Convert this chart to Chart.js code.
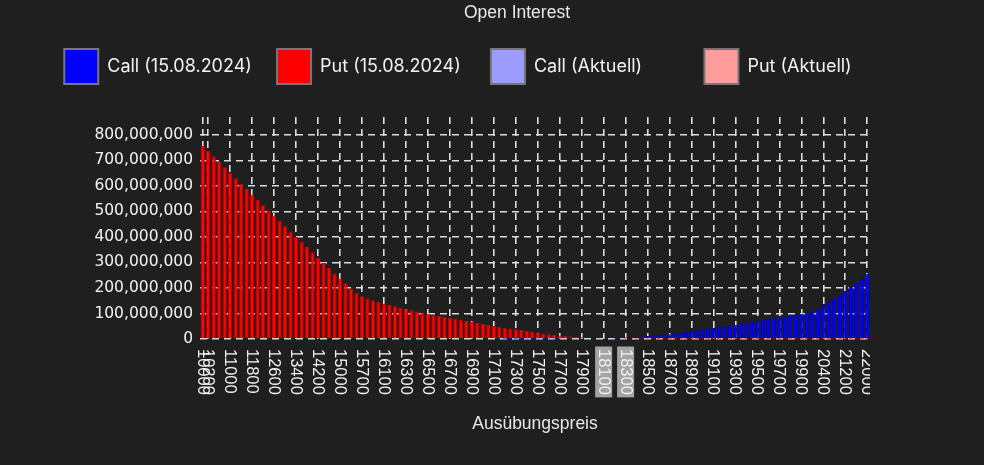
<!DOCTYPE html>
<html>
<head>
<meta charset="utf-8">
<script src="https://cdn.jsdelivr.net/npm/chart.js@4.4.1/dist/chart.umd.min.js"></script>
<style>
html, body { margin: 0; padding: 0; background: #1f1f1f; overflow: hidden; }
#wrap { width: 870px; height: 465px; overflow: hidden; }
canvas { display: block; }
</style>
</head>
<body>
<div id="wrap"><canvas id="c" width="1034" height="465"></canvas></div>
<script>
// ---------- data ----------
const strikes = [
  '10000','10200','10400','10600','10800','11000','11200','11400','11600','11800',
  '12000','12200','12400','12600','12800','13000','13200','13400','13600','13800',
  '14000','14200','14400','14600','14800','15000','15200','15400','15600','15700',
  '15800','15900','16000','16100','16150','16200','16250','16300','16350','16400',
  '16450','16500','16550','16600','16650','16700','16750','16800','16850','16900',
  '16950','17000','17050','17100','17150','17200','17250','17300','17350','17400',
  '17450','17500','17550','17600','17650','17700','17750','17800','17850','17900',
  '17950','18000','18050','18100','18150','18200','18250','18300','18350','18400',
  '18450','18500','18550','18600','18650','18700','18750','18800','18850','18900',
  '18950','19000','19050','19100','19150','19200','19250','19300','19350','19400',
  '19450','19500','19550','19600','19650','19700','19750','19800','19850','19900',
  '20000','20100','20200','20400','20600','20800','21000','21200','21400','21600',
  '21800','22000'
];

const putOld = [
  756e6, 737e6, 715e6, 694e6, 673e6, 652e6, 630e6, 607e6, 588e6, 566e6,
  545e6, 524e6, 505e6, 483e6, 463e6, 442e6, 421e6, 400e6, 380e6, 361e6,
  340e6, 319e6, 299e6, 278e6, 257e6, 237e6, 218e6, 198e6, 180e6, 168e6,
  160e6, 152e6, 145e6, 138e6, 133e6, 128e6, 122e6, 117e6, 113e6, 108e6,
  104e6, 99e6, 95e6, 91e6, 87e6, 83e6, 79e6, 75e6, 71e6, 67e6,
  63e6, 59e6, 55e6, 51e6, 47e6, 44e6, 41e6, 38e6, 35e6, 31e6,
  28e6, 25e6, 22e6, 19e6, 16e6, 14e6, 12e6, 10e6, 8.5e6, 7e6,
  6e6, 5e6, 4e6, 3e6, 2.5e6, 2e6, 1.6e6, 1.3e6, 1e6, 0.8e6,
  0.6e6, 0.5e6, 0.4e6, 0.3e6, 0.2e6, 0.2e6, 0.2e6, 0.2e6, 0.2e6, 0.2e6,
  0.2e6, 0.2e6, 0.2e6, 0.2e6, 0.2e6, 0.2e6, 0.1e6, 0.1e6, 0.1e6, 0.1e6,
  0.1e6, 0.1e6, 0.1e6, 0.1e6, 0.1e6, 0.1e6, 0.1e6, 0.1e6, 0.1e6, 0.1e6,
  0.1e6, 0.1e6, 0.1e6, 0.1e6, 0.1e6, 0.1e6, 0.1e6, 0.1e6, 0.1e6, 0.1e6,
  0.1e6, 0.1e6
];

const callOld = [
  0, 0, 0, 0, 0, 0, 0, 0, 0, 0,
  0, 0, 0, 0, 0, 0, 0, 0, 0, 0,
  0, 0, 0, 0, 0, 0, 0, 0, 0, 0,
  0, 0, 0, 0, 0, 0, 0, 0, 0, 0,
  0, 0, 0, 0, 0, 0, 0, 0, 0, 0,
  0, 0, 0, 0, 0, 0.2e6, 0.3e6, 0.4e6, 0.5e6, 0.6e6,
  0.7e6, 0.8e6, 0.9e6, 1e6, 1.2e6, 1.4e6, 1.7e6, 2e6, 2.3e6, 2.7e6,
  3e6, 3.4e6, 3.8e6, 4.2e6, 4.7e6, 5.2e6, 5.8e6, 6.5e6, 7.5e6, 8.5e6,
  10e6, 11.5e6, 13e6, 15e6, 17e6, 19e6, 22e6, 25e6, 28e6, 31e6,
  34e6, 37e6, 40e6, 43e6, 46e6, 49e6, 52e6, 56e6, 60e6, 63e6,
  67e6, 71e6, 74e6, 78e6, 81e6, 85e6, 88e6, 91e6, 95e6, 99e6,
  102e6, 106e6, 116e6, 132e6, 147e6, 160e6, 173e6, 188e6, 204e6, 219e6,
  235e6, 256e6
];

const callNow = [];
const putNow = [];

const seriesNames = ['Call (15.08.2024)', 'Put (15.08.2024)', 'Call (Aktuell)', 'Put (Aktuell)'];

// y axis tick values
const yTickValues = [0, 100000000, 200000000, 300000000, 400000000, 500000000, 600000000, 700000000, 800000000];

// x tick labels that are shown, and the two highlighted ones
const shownStrikes = [
  '10000','10200','11000','11800','12600','13400','14200','15000','15700','16100',
  '16300','16500','16700','16900','17100','17300','17500','17700','17900','18100',
  '18300','18500','18700','18900','19100','19300','19500','19700','19900','20400',
  '21200','22000'
];
const highlightStrikes = ['18100', '18300'];

// ---------- styling ----------
const GRID = 'rgba(220,220,220,1)';
const TEXT = '#f2f2f2';
const LEGEND_FONT_SIZE = 18;
const LEGEND_FAMILY = 'Inter';
const shownIdx = new Set(shownStrikes.map(s => strikes.indexOf(s)));

const mctx = document.createElement('canvas').getContext('2d');
function padText(t, target) {
  mctx.font = LEGEND_FONT_SIZE + 'px ' + LEGEND_FAMILY;
  let s = t;
  while (mctx.measureText(s + ' ').width <= target) s += ' ';
  while (mctx.measureText(s + '\u200A').width <= target) s += '\u200A';
  return s;
}

const xLabelPlugin = {
  id: 'xLabels',
  afterDraw(chart) {
    const sc = chart.scales.x;
    const ctx = chart.ctx;
    ctx.save();
    ctx.font = '16.5px "Liberation Sans", Arial, sans-serif';
    ctx.textAlign = 'left';
    ctx.textBaseline = 'middle';
    shownStrikes.forEach(s => {
      const i = strikes.indexOf(s);
      const x = sc.getPixelForValue(i);
      const y = sc.top + 10;
      ctx.save();
      ctx.translate(x, y);
      ctx.rotate(Math.PI / 2);
      const w = ctx.measureText(s).width;
      if (highlightStrikes.includes(s)) {
        ctx.fillStyle = '#a4a4a4';
        ctx.fillRect(-2.5, -8.5, w + 5, 17);
      }
      ctx.fillStyle = TEXT;
      ctx.fillText(s, 0, 0.5);
      ctx.restore();
    });
    ctx.restore();
  }
};

const ctx = document.getElementById('c').getContext('2d');
new Chart(ctx, {
  type: 'bar',
  data: {
    labels: strikes,
    datasets: [
      { label: seriesNames[0], data: callOld, backgroundColor: '#0000ff', borderColor: '#0000d0', borderWidth: 1, xAxisID: 'x', yAxisID: 'y' },
      { label: seriesNames[1], data: putOld, backgroundColor: '#ff0000', borderColor: '#c80000', borderWidth: 1, xAxisID: 'x', yAxisID: 'y' },
      { label: seriesNames[2], data: callNow, backgroundColor: '#9c9cff', borderColor: '#9c9cff', borderWidth: 1, xAxisID: 'x', yAxisID: 'y' },
      { label: seriesNames[3], data: putNow, backgroundColor: '#ff9c9c', borderColor: '#ff9c9c', borderWidth: 1, xAxisID: 'x', yAxisID: 'y' }
    ]
  },
  options: {
    responsive: false,
    maintainAspectRatio: false,
    animation: false,
    devicePixelRatio: 1,
    layout: { padding: 0 },
    datasets: { bar: { grouped: false, barPercentage: 0.98, categoryPercentage: 0.8 } },
    plugins: {
      title: {
        display: true,
        text: 'Open Interest',
        color: '#e8e8e8',
        font: { family: '"Liberation Sans", Arial, sans-serif', size: 17.5, weight: 'normal' },
        padding: { top: 2.5, bottom: 15.5 }
      },
      legend: {
        display: true,
        position: 'top',
        align: 'center',
        labels: {
          boxWidth: 34,
          boxHeight: 35,
          padding: 10,
          color: TEXT,
          font: { family: LEGEND_FAMILY, size: LEGEND_FONT_SIZE },
          generateLabels(chart) {
            return chart.data.datasets.map((ds, i) => ({
              text: padText(ds.label, i === 3 ? 223 : 161),
              fillStyle: ds.backgroundColor,
              strokeStyle: '#777777',
              lineWidth: 2,
              hidden: false,
              datasetIndex: i,
              fontColor: TEXT
            }));
          }
        }
      },
      tooltip: { enabled: false }
    },
    scales: {
      x: {
        type: 'category',
        position: 'bottom',
        offset: true,
        grid: {
          offset: false,
          drawTicks: false,
          lineWidth: 1.6,
          color: c => shownIdx.has(c.index) ? GRID : 'rgba(0,0,0,0)'
        },
        border: { display: false, dash: [7, 5] },
        ticks: { display: false, autoSkip: false },
        title: {
          display: true,
          text: 'Ausübungspreis',
          color: '#e8e8e8',
          font: { family: '"Liberation Sans", Arial, sans-serif', size: 17.5 },
          padding: { top: 0, bottom: 30.5 }
        },
        afterFit(s) { s.height = 126; }
      },
      xTop: {
        type: 'category',
        position: 'top',
        display: true,
        grid: { display: false },
        border: { display: false },
        ticks: { display: false },
        afterFit(s) { s.height = 23; }
      },
      y: {
        type: 'linear',
        position: 'left',
        min: 0,
        max: 870000000,
        bounds: 'data',
        grid: { drawTicks: false, lineWidth: 1.6, color: GRID },
        border: { display: false, dash: [7, 5] },
        ticks: {
          padding: 7,
          color: TEXT,
          font: { family: '"DejaVu Sans", sans-serif', size: 15.5 },
          callback: v => Number(v).toLocaleString('en-US')
        },
        afterBuildTicks(s) { s.ticks = yTickValues.map(v => ({ value: v })); },
        afterFit(s) { s.width = 200; }
      },
      yR: {
        type: 'linear',
        position: 'right',
        display: true,
        grid: { display: false },
        border: { display: false },
        ticks: { display: false },
        afterFit(s) { s.width = 164; }
      }
    }
  },
  plugins: [xLabelPlugin]
});
</script>
</body>
</html>
